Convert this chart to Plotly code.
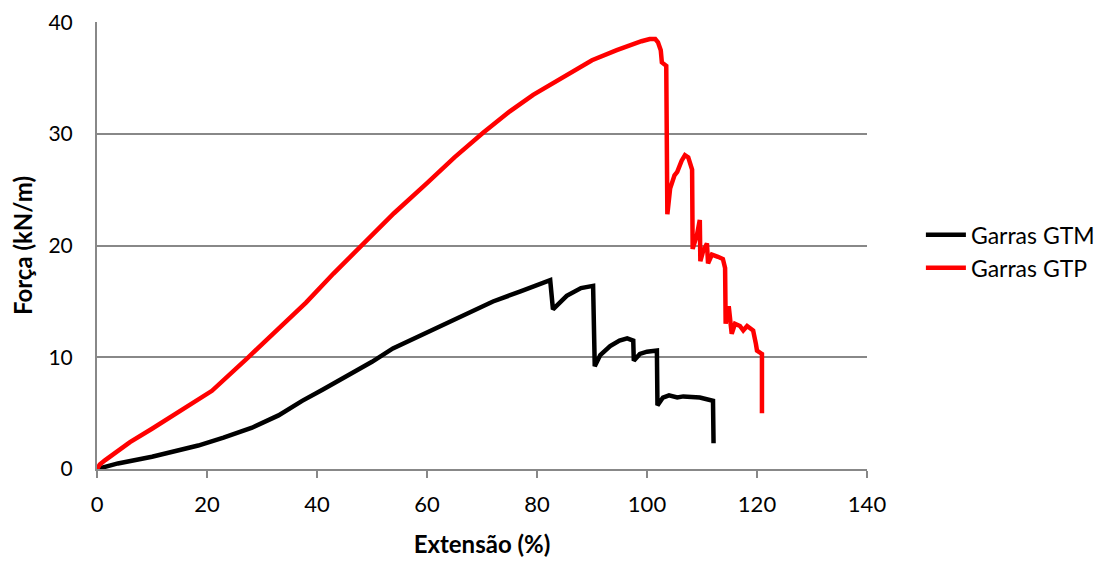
import plotly.graph_objects as go

gtm_x = [0, 3.8, 10, 18.4, 23, 28.2, 33, 37.3, 41, 45.1, 50, 53.8, 60, 67.2, 72, 77, 82.4,
         82.9, 85.4, 88, 90.2, 90.5, 91.5, 93.3, 95, 96.4, 97.5, 97.6, 98.7, 100, 101.8,
         101.9, 102.9, 104, 105.5, 106.6, 108, 109.6, 112, 112.1]
gtm_y = [0, 0.5, 1.1, 2.1, 2.8, 3.7, 4.8, 6.1, 7.1, 8.2, 9.6, 10.8, 12.2, 13.9, 15.0, 15.9, 16.9,
         14.3, 15.5, 16.2, 16.4, 9.2, 10.2, 11.0, 11.5, 11.7, 11.5, 9.7, 10.3, 10.5, 10.6,
         5.7, 6.4, 6.6, 6.4, 6.5, 6.5, 6.4, 6.1, 2.3]

gtp_x = [0, 0.5, 1.5, 3.3, 6, 10, 15, 20.9, 27.5, 33, 38, 43, 48.4, 54, 60, 65, 70.2, 75, 79.3,
         85.4, 90, 94.5, 97, 99, 100.5, 101.5, 102, 102.5, 102.7, 103.5, 103.7, 104.2, 105,
         105.5, 106.3, 106.9, 107.5, 108.2, 108.3, 109.1, 109.6, 109.7, 110.2, 110.9, 111.1,
         111.8, 112.9, 113.8, 114.2, 114.3, 114.7, 114.9, 115.4, 116, 116.9, 117.5, 118.2,
         119.3, 119.8, 120, 120.9, 120.9]
gtp_y = [0, 0.4, 0.8, 1.4, 2.4, 3.6, 5.2, 7.0, 10.0, 12.6, 14.9, 17.5, 20.1, 22.9, 25.6, 27.9,
         30.1, 32.0, 33.5, 35.3, 36.6, 37.5, 38.0, 38.3, 38.5, 38.5, 38.2, 37.5, 36.4, 36.1,
         22.8, 25.1, 26.3, 26.6, 27.6, 28.1, 27.9, 26.8, 19.7, 21.0, 22.3, 18.6, 19.5, 20.2,
         18.4, 19.2, 19.0, 18.8, 18.0, 13.0, 14.4, 14.4, 12.1, 13.0, 12.8, 12.4, 12.8, 12.4,
         11.2, 10.6, 10.3, 5.0]

x_ticks = [0, 20, 40, 60, 80, 100, 120, 140]
y_ticks = [0, 10, 20, 30, 40]

FONT = "Lato"

fig = go.Figure()
fig.add_trace(go.Scatter(x=gtm_x, y=gtm_y, mode="lines", name="Garras GTM",
                         line=dict(color="black", width=4.5)))
fig.add_trace(go.Scatter(x=gtp_x, y=gtp_y, mode="lines", name="Garras GTP",
                         line=dict(color="#ff0000", width=4.5)))

fig.update_layout(
    width=1117, height=561,
    margin=dict(l=89, r=258, t=14, b=100, autoexpand=False),
    paper_bgcolor="white", plot_bgcolor="white",
    font=dict(family=FONT, size=22, color="black"),
    showlegend=True,
    legend=dict(x=1.07, y=0.487, xanchor="left", yanchor="middle",
                font=dict(family=FONT, size=23, color="black"),
                bgcolor="rgba(0,0,0,0)", tracegroupgap=0, itemwidth=40),
    xaxis=dict(range=[0, 140], tickvals=x_ticks, showgrid=False, zeroline=False,
               showline=True, linecolor="#888888", linewidth=2,
               ticks="outside", ticklen=7, tickcolor="#888888", tickwidth=2,
               ticklabelstandoff=8,
               title=dict(text="<b>Extensão (%)</b>", font=dict(family=FONT, size=24), standoff=20),
               tickfont=dict(family=FONT, size=22)),
    yaxis=dict(range=[0, 40.02], tickvals=y_ticks, showgrid=True, gridcolor="#888888", gridwidth=2,
               zeroline=False, showline=True, linecolor="#888888", linewidth=2,
               ticks="", ticklabelstandoff=18, ticklabeloverflow="allow",
               title=dict(text="<b>Força (kN/m)</b>", font=dict(family=FONT, size=24), standoff=12),
               tickfont=dict(family=FONT, size=21)),
)

fig.write_html("out.html")
